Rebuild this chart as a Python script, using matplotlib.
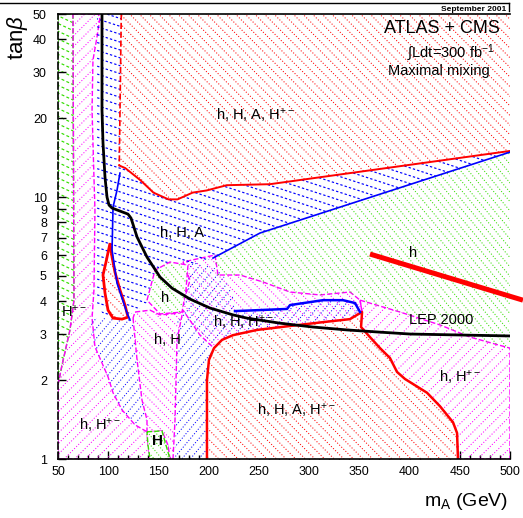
import numpy as np
import matplotlib
matplotlib.use('Agg')
import matplotlib.pyplot as plt
from matplotlib.patches import Polygon
from matplotlib.collections import LineCollection
from matplotlib.lines import Line2D
from matplotlib.ticker import FixedLocator, NullFormatter, MultipleLocator

plt.rcParams['font.family'] = ['Liberation Sans', 'DejaVu Sans']
plt.rcParams['mathtext.fontset'] = 'custom'
plt.rcParams['mathtext.rm'] = 'Liberation Sans'
plt.rcParams['mathtext.it'] = 'Liberation Sans:italic'
plt.rcParams['mathtext.bf'] = 'Liberation Sans:bold'

# ---------------- data (m_A in GeV, tan beta) ----------------
# red: h, H, A, H+- (large tan beta)
red_top_m = [113, 111, 117, 132, 145, 160, 169, 184, 198, 218, 261, 500, 500]
red_top_t = [50, 13.2, 12.9, 11.6, 10.4, 9.8, 9.8, 10.4, 10.6, 11.1, 11.2, 15.0, 50]
# blue: h, H, A
blue_hHA_m = [88.8, 113, 111, 117, 132, 145, 160, 169, 184, 198, 218, 261, 500, 500,
              251.1, 204.3, 176.4, 156.5, 141.6, 126.7, 111.7, 96.8, 86.8, 87.8, 88.8]
blue_hHA_t = [50, 50, 13.2, 12.9, 11.6, 10.4, 9.8, 9.8, 10.4, 10.6, 11.1, 11.2, 15.0, 14.85,
              7.29, 5.85, 5.36, 4.61, 4.04, 3.64, 3.45, 3.45, 4.04, 9.74, 23.5]
# green: h only (right)
green_h_m = [204.3, 251.1, 500, 500, 460.2, 430.3, 390.5, 350.7, 340.7, 310.8, 281.0,
             254.1, 231.2, 209.3, 206.3]
green_h_t = [5.85, 7.29, 14.85, 2.65, 2.92, 3.25, 3.64, 4.04, 4.34, 4.23, 4.34,
             4.74, 5.04, 5.04, 6.01]
# green: h only (small island)
green_small_m = [138.6, 146.6, 161.5, 179.4, 177.4, 173.5, 151.6]
green_small_t = [4.04, 5.26, 5.65, 5.50, 4.42, 3.64, 3.58]
# green: left strip
green_left_m = [50, 64.9, 65.9, 61.9, 54.0, 50]
green_left_t = [50, 50, 4.04, 3.11, 2.28, 1.92]
# green: H only
green_H_m = [138.6, 153.5, 157.5, 161.5, 141.6, 139.6]
green_H_t = [1.27, 1.28, 1.13, 1.0, 1.0, 1.13]
# magenta: H+- (left)
mag_left_m = [64.9, 89.8, 91.8, 88.8, 84.8, 83.9, 85.8, 86.8, 85.8, 83.9, 86.8, 99.8,
              104.8, 113.7, 126.7, 138.6, 139.6, 141.6, 50, 50, 54.0, 61.9, 65.9]
mag_left_t = [50, 50, 48.6, 40.8, 33.3, 21.5, 11.9, 8.92, 4.42, 3.45, 2.68, 2.06,
              1.79, 1.54, 1.35, 1.27, 1.13, 1.0, 1.0, 1.92, 2.28, 3.11, 4.04]
# magenta: h, H+- (right)
mag_right_m = [350.7, 390.5, 430.3, 460.2, 500, 500, 448.2, 447.3, 443.3, 430.3, 417.4,
               395.5, 387.5, 380.5, 370.6, 360.6, 351.7, 352.7]
mag_right_t = [4.04, 3.64, 3.25, 2.92, 2.65, 1.0, 1.0, 1.256, 1.38, 1.59, 1.79,
               2.02, 2.15, 2.43, 2.65, 2.92, 3.19, 3.64]
# magenta: h, H  and  h, H, H+- (middle)
mag_mid_m = [124.7, 128.7, 133.6, 138.6, 138.6, 153.5, 159.5, 161.5, 164.5, 166.5, 168.5,
             174.5, 191.4, 205.3, 213.3, 224.2, 248.1, 281.0, 313.8, 340.7, 347.7, 352.7,
             350.7, 340.7, 310.8, 281.0, 254.1, 231.2, 209.3, 206.3, 174.5, 181.4, 171.5,
             151.6, 141.6, 126.7]
mag_mid_t = [3.45, 2.39, 1.68, 1.41, 1.27, 1.28, 1.13, 1.0, 1.0, 1.41, 2.85,
             3.70, 2.97, 2.65, 2.85, 2.97, 3.11, 3.22, 3.33, 3.42, 3.55, 3.64,
             4.04, 4.34, 4.23, 4.34, 4.74, 5.04, 5.04, 6.01, 5.65, 4.82, 3.61,
             3.55, 3.70, 3.64]
# blue: H / A low tan beta (left part and middle part)
blue_low1_m = [83.9, 124.7, 128.7, 133.6, 138.6, 126.7, 113.7, 104.8, 99.8, 86.8, 81.9]
blue_low1_t = [3.45, 3.45, 2.39, 1.68, 1.41, 1.35, 1.54, 1.79, 2.06, 2.68, 3.11]
blue_low2_m = [166.5, 198.3, 198.3, 200.3, 205.3, 213.3, 224.2, 248.1, 281.0, 313.8, 340.7,
               347.7, 350.7, 345.7, 333.7, 313.8, 281.0, 278.0, 226.2, 224.2, 213.3, 201.3,
               181.4, 177.4, 174.5, 168.5, 167.5]
blue_low2_t = [1.0, 1.0, 2.0, 2.39, 2.65, 2.85, 2.97, 3.11, 3.22, 3.33, 3.42,
               3.55, 3.64, 3.94, 4.04, 4.04, 3.87, 3.74, 3.67, 4.30, 5.13, 5.50,
               5.60, 4.42, 3.61, 3.39, 1.68]
# red: h, H, A, H+- (low tan beta)
red_bot_m = [198.3, 198.3, 200.3, 205.3, 213.3, 224.2, 248.1, 281.0, 313.8, 340.7, 347.7,
             352.7, 351.7, 360.6, 370.6, 380.5, 387.5, 395.5, 417.4, 430.3, 443.3, 447.3, 448.2]
red_bot_t = [1.0, 2.0, 2.39, 2.65, 2.85, 2.97, 3.11, 3.22, 3.33, 3.42, 3.55,
             3.64, 3.19, 2.92, 2.65, 2.43, 2.15, 2.02, 1.79, 1.59, 1.38, 1.256, 1.0]
# red: small island
red_small_m = [101.8, 97.8, 94.8, 96.8, 99.8, 104.8, 113.7, 119.7, 116.7, 111.7, 106.7, 103.8]
red_small_t = [6.67, 5.65, 5.04, 4.30, 3.70, 3.45, 3.42, 3.48, 3.87, 4.42, 5.17, 5.90]
# blue boundary lines
blue_line1_m = [204.3, 251.1, 500]
blue_line1_t = [5.85, 7.29, 14.85]
blue_line2_m = [111.7, 108.7, 104.8, 103.8, 108.7, 118.7, 121.7]
blue_line2_t = [12.35, 10.6, 9.16, 6.28, 4.70, 3.61, 3.39]
blue_line3_m = [226.2, 278.0, 281.0, 313.8, 333.7, 345.7, 350.7]
blue_line3_t = [3.67, 3.74, 3.87, 4.04, 4.04, 3.94, 3.64]
# LEP 2000 exclusion
lep_m = [93.8, 93.8, 94.8, 96.8, 98.8, 100.8, 103.8, 119.7, 122.7, 128.7, 138.6, 151.6,
         163.5, 181.4, 201.3, 224.2, 238.2, 271.0, 303.9, 337.7, 370.6, 400.5, 499.0]
lep_t = [50, 21.5, 16.1, 11.9, 10.0, 9.32, 9.08, 8.61, 8.31, 7.04, 5.90, 4.95,
         4.49, 4.08, 3.77, 3.55, 3.45, 3.30, 3.19, 3.11, 3.05, 3.00, 2.95]
# thick red line
thick_m = [360.6, 512.9]
thick_t = [6.06, 4.04]

yticks = [1, 2, 3, 4, 5, 6, 7, 8, 9, 10, 20, 30, 40, 50]
ytick_labels = ['1', '2', '3', '4', '5', '6', '7', '8', '9', '10', '20', '30', '40', '50']
xticks = [50, 100, 150, 200, 250, 300, 350, 400, 450, 500]

labels = [
    ('h, H, A, H$^{+-}$', 246, 20.5),
    ('h, H, A', 173.5, 7.29),
    ('h', 403.4, 6.11),
    ('h', 156.5, 4.12),
    ('H$^{+-}$', 66, 3.64),
    ('h, H', 158.5, 2.85),
    ('h, H, H$^{+-}$', 234.2, 3.33),
    ('LEP 2000', 431, 3.39),
    ('h, H$^{+-}$', 450.2, 2.06),
    ('h, H, A, H$^{+-}$', 287, 1.54),
    ('h, H$^{+-}$', 91.8, 1.35),
]

RED = '#ff0000'
BLUE = '#0000ff'
GREEN = '#33dd00'
MAG = '#ff00ff'

fig = plt.figure(figsize=(5.23, 5.18), dpi=100)
ax = fig.add_axes([58/523, 1-459/518, 452/523, 445/518])
ax.set_yscale('log')
ax.set_xlim(50, 500)
ax.set_ylim(1, 50)

AW, AH = 452.0, 445.0
DOT = (0, (1, 1.8))


def region(m, t, angle, spacing, color, z, white=False, lw=0.75, ls=DOT,
           edge=None, els='--', elw=1.0):
    xy = np.column_stack([m, t])
    poly = Polygon(xy, closed=True, facecolor='white' if white else 'none',
                   edgecolor='none', zorder=z)
    ax.add_patch(poly)
    a = np.deg2rad(angle)
    d = np.array([np.cos(a), np.sin(a)])
    n = np.array([-np.sin(a), np.cos(a)])
    L = np.hypot(AW, AH)
    segs = []
    for c in np.arange(-L, L, spacing):
        p0 = c * n - L * d
        p1 = c * n + L * d
        segs.append([(p0[0] / AW, p0[1] / AH), (p1[0] / AW, p1[1] / AH)])
    lc = LineCollection(segs, colors=color, linewidths=lw, linestyles=[ls],
                        transform=ax.transAxes, zorder=z + 0.05)
    lc.set_clip_path(poly)
    ax.add_collection(lc, autolim=False)
    if edge is not None:
        ax.add_patch(Polygon(xy, closed=True, fill=False, edgecolor=edge,
                             linestyle=els, linewidth=elw, zorder=z + 0.1))


region(green_left_m, green_left_t, -25, 7, GREEN, 1, ls=(0, (2.5, 2)), lw=0.85,
       edge=GREEN, els='--')
region(mag_left_m, mag_left_t, 45, 7.5, MAG, 2, edge=MAG)
region(mag_right_m, mag_right_t, 45, 7.5, MAG, 2, edge=MAG)
region(blue_low1_m, blue_low1_t, 50, 6.5, BLUE, 2.5)
region(blue_low2_m, blue_low2_t, 50, 6.5, BLUE, 2.5)
region(mag_mid_m, mag_mid_t, -45, 6.5, MAG, 3, edge=MAG)
region(blue_hHA_m, blue_hHA_t, -18, 7.5, BLUE, 4, ls=(0, (2, 1.8)), lw=0.85)
region(red_top_m, red_top_t, -45, 6.8, RED, 4)
region(green_h_m, green_h_t, -50, 6, GREEN, 4)
region(green_small_m, green_small_t, -50, 6, GREEN, 5, white=True, edge=MAG)
region(green_H_m, green_H_t, -50, 6, GREEN, 5, white=True, edge=GREEN)
region(red_bot_m, red_bot_t, -45, 6.8, RED, 5, white=True)
region(red_small_m, red_small_t, -45, 6.8, RED, 6, white=True)

# boundary lines
ax.plot(red_top_m[:2], red_top_t[:2], color=RED, lw=1.2, ls='--', zorder=7)
ax.plot(red_top_m[1:-1], red_top_t[1:-1], color=RED, lw=1.4, zorder=7)
ax.plot(red_bot_m, red_bot_t, color=RED, lw=1.8, zorder=7)
ax.fill(red_small_m, red_small_t, facecolor='none', edgecolor=RED, lw=2, zorder=7)
ax.plot(blue_line1_m, blue_line1_t, color=BLUE, lw=1.2, zorder=7)
ax.plot(blue_line2_m, blue_line2_t, color=BLUE, lw=1.2, zorder=7)
ax.plot(blue_line3_m, blue_line3_t, color=BLUE, lw=1.8, zorder=7)

ax.plot(lep_m, lep_t, color='black', lw=2.0, zorder=8)
ax.plot(thick_m, thick_t, color=RED, lw=3.6, zorder=8, clip_on=False,
        solid_capstyle='butt')

for txt, xm, yt in labels:
    ax.text(xm, yt, txt, ha='center', va='center', fontsize=10.5, zorder=10)
ax.text(148.6, 1.17, 'H', ha='center', va='center', fontsize=11, fontweight='bold',
        zorder=10)

# axes styling
ax.yaxis.set_major_locator(FixedLocator(yticks))
ax.set_yticklabels(ytick_labels)
ax.yaxis.set_minor_locator(FixedLocator([]))
ax.yaxis.set_minor_formatter(NullFormatter())
ax.xaxis.set_major_locator(FixedLocator(xticks))
ax.xaxis.set_minor_locator(MultipleLocator(10))
ax.tick_params(axis='both', which='major', direction='in', length=6, width=1,
               labelsize=9, top=False, right=False)
ax.tick_params(axis='x', which='minor', direction='in', length=3, width=1,
               top=False)
ax.tick_params(axis='y', which='major', pad=8)
ax.tick_params(axis='x', which='major', pad=5)
ax.spines['right'].set_visible(False)
ax.spines['left'].set_linestyle((0, (4, 2)))
for s in ['left', 'bottom', 'top']:
    ax.spines[s].set_linewidth(1.2)
    ax.spines[s].set_zorder(9)

# titles / annotations
fig.text(18/523, 1-37/518, 'tan$\\beta$', rotation=90, ha='center', va='center',
         fontsize=16)
fig.text(508/523, 1-502/518, 'm$_\\mathregular{A}$ (GeV)', ha='right', va='center',
         fontsize=14)
fig.text(500/523, 1-33/518, 'ATLAS + CMS', ha='right', va='baseline', fontsize=13)
fig.text(495/523, 1-57/518, '\u222bLdt=300 fb$^{-1}$', ha='right', va='baseline',
         fontsize=10.5)
fig.text(490/523, 1-75/518, 'Maximal mixing', ha='right', va='baseline', fontsize=10.5)
fig.text(506/523, 1-11/518, 'September 2001', ha='right', va='baseline', fontsize=6,
         fontweight='bold')
fig.add_artist(Line2D([0, 509/523], [1-2.5/518, 1-2.5/518], color='black', lw=1,
                      transform=fig.transFigure))
fig.add_artist(Line2D([509/523, 509/523], [1-2.5/518, 1-11/518], color='black', lw=1,
                      transform=fig.transFigure))

fig.savefig('out.png', dpi=100)
